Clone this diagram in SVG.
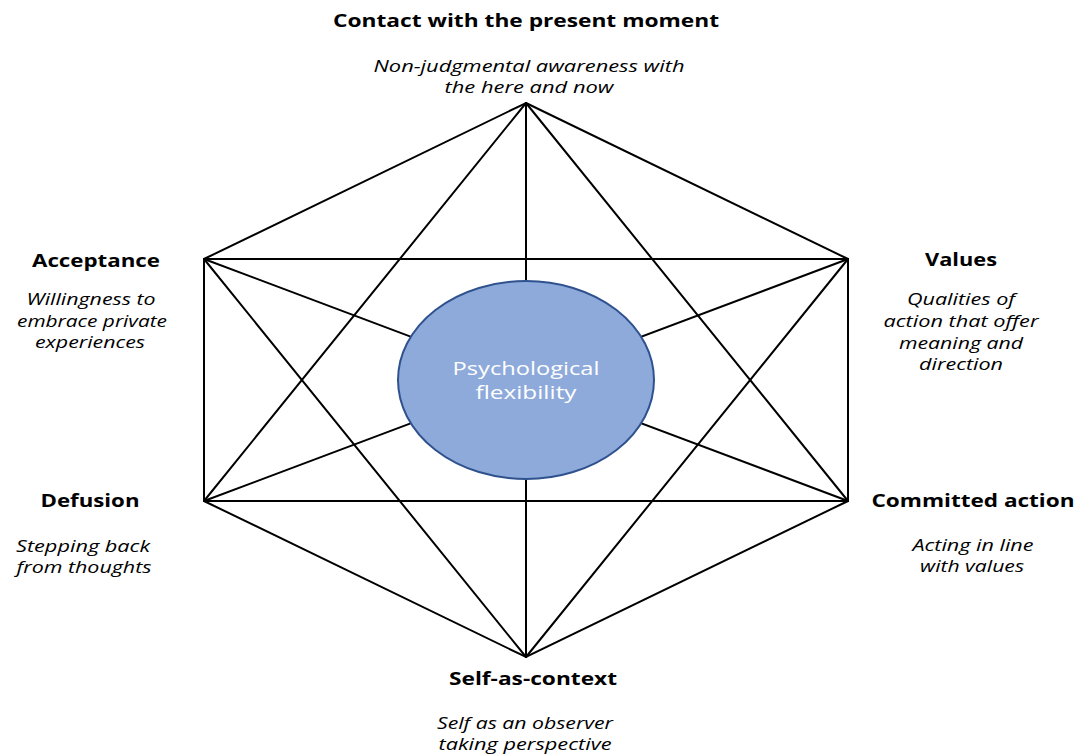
<svg xmlns="http://www.w3.org/2000/svg" width="1080" height="755" viewBox="0 0 1080 755">
  <style>
    .edge { stroke: #000; stroke-width: 2; fill: none; stroke-linecap: round; }
    .title { font-family: "Open Sans", "Liberation Sans", sans-serif; font-weight: bold; font-size: 18px; fill: #000; text-anchor: middle; }
    .desc { font-family: "Open Sans", "Liberation Sans", sans-serif; font-style: italic; font-size: 16px; fill: #000; text-anchor: middle; }
    .core { font-family: "Open Sans", "Liberation Sans", sans-serif; font-size: 19px; fill: #fff; text-anchor: middle; }
  </style>
  <rect width="1080" height="755" fill="#fff"/>

  <!-- every process linked to every other process -->
  <g id="connectors">
    <polygon class="edge" points="526,103 848,259 848,501 526,657 204,501 204,259"/>
    <line class="edge" x1="526" y1="103" x2="204" y2="501"/>
    <line class="edge" x1="526" y1="103" x2="848" y2="501"/>
    <line class="edge" x1="526" y1="103" x2="526" y2="657"/>
    <line class="edge" x1="204" y1="259" x2="848" y2="259"/>
    <line class="edge" x1="204" y1="501" x2="848" y2="501"/>
    <line class="edge" x1="204" y1="259" x2="526" y2="657"/>
    <line class="edge" x1="848" y1="259" x2="526" y2="657"/>
    <line class="edge" x1="204" y1="259" x2="848" y2="501"/>
    <line class="edge" x1="848" y1="259" x2="204" y2="501"/>
  </g>

  <g id="psychological-flexibility">
    <ellipse cx="526" cy="380" rx="128" ry="99" fill="#8eaadb" stroke="#2f528f" stroke-width="2"/>
    <text class="core" x="526" y="375" textLength="147" lengthAdjust="spacingAndGlyphs">Psychological</text>
    <text class="core" x="526" y="399" textLength="101" lengthAdjust="spacingAndGlyphs">flexibility</text>
  </g>

  <g id="contact-present-moment">
    <text class="title" x="526" y="27" textLength="386" lengthAdjust="spacingAndGlyphs">Contact with the present moment</text>
    <text class="desc" x="529" y="72" textLength="311" lengthAdjust="spacingAndGlyphs">Non-judgmental awareness with</text>
    <text class="desc" x="529" y="93" textLength="169" lengthAdjust="spacingAndGlyphs">the here and now</text>
  </g>

  <g id="acceptance">
    <text class="title" x="96" y="267" textLength="128" lengthAdjust="spacingAndGlyphs">Acceptance</text>
    <text class="desc" x="91" y="305" textLength="129" lengthAdjust="spacingAndGlyphs">Willingness to</text>
    <text class="desc" x="92" y="327" textLength="150" lengthAdjust="spacingAndGlyphs">embrace private</text>
    <text class="desc" x="90" y="348" textLength="110" lengthAdjust="spacingAndGlyphs">experiences</text>
  </g>

  <g id="values">
    <text class="title" x="961" y="266" textLength="72" lengthAdjust="spacingAndGlyphs">Values</text>
    <text class="desc" x="961" y="305" textLength="108" lengthAdjust="spacingAndGlyphs">Qualities of</text>
    <text class="desc" x="961" y="327" textLength="155" lengthAdjust="spacingAndGlyphs">action that offer</text>
    <text class="desc" x="961" y="349" textLength="124" lengthAdjust="spacingAndGlyphs">meaning and</text>
    <text class="desc" x="961" y="370" textLength="84" lengthAdjust="spacingAndGlyphs">direction</text>
  </g>

  <g id="defusion">
    <text class="title" x="90" y="507" textLength="99" lengthAdjust="spacingAndGlyphs">Defusion</text>
    <text class="desc" x="83" y="552" textLength="134" lengthAdjust="spacingAndGlyphs">Stepping back</text>
    <text class="desc" x="84" y="573" textLength="135" lengthAdjust="spacingAndGlyphs">from thoughts</text>
  </g>

  <g id="committed-action">
    <text class="title" x="973" y="507" textLength="203" lengthAdjust="spacingAndGlyphs">Committed action</text>
    <text class="desc" x="973" y="551" textLength="121" lengthAdjust="spacingAndGlyphs">Acting in line</text>
    <text class="desc" x="972" y="572" textLength="104" lengthAdjust="spacingAndGlyphs">with values</text>
  </g>

  <g id="self-as-context">
    <text class="title" x="533" y="685" textLength="168" lengthAdjust="spacingAndGlyphs">Self-as-context</text>
    <text class="desc" x="525" y="729" textLength="176" lengthAdjust="spacingAndGlyphs">Self as an observer</text>
    <text class="desc" x="525" y="750" textLength="173" lengthAdjust="spacingAndGlyphs">taking perspective</text>
  </g>
</svg>
